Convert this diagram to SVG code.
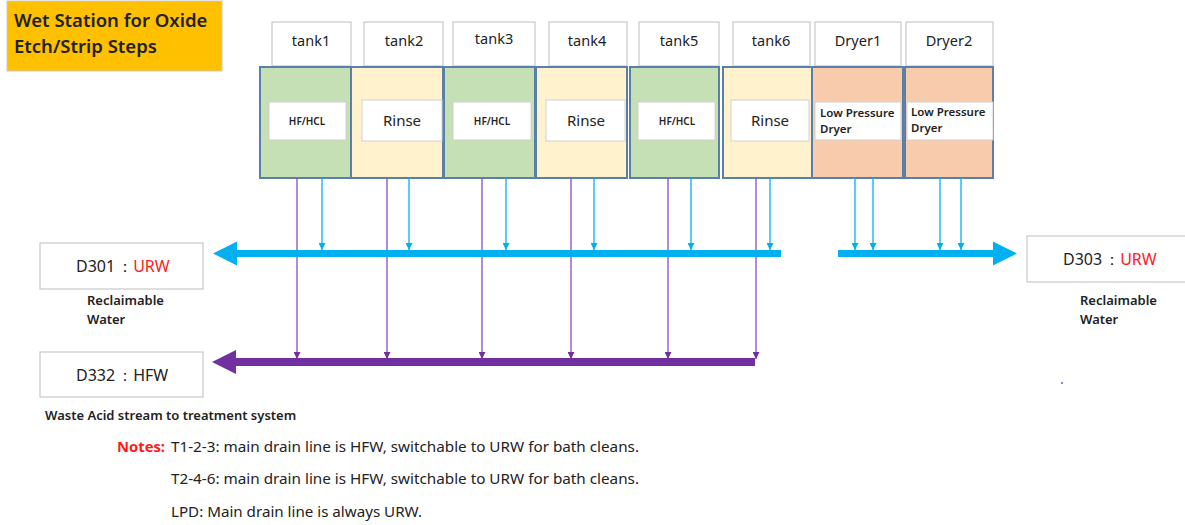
<svg xmlns="http://www.w3.org/2000/svg" width="1185" height="525" viewBox="0 0 1185 525">
<defs>
<style>
text{font-family:"Noto Sans","Open Sans",sans-serif;fill:#222}
.lab{fill:#fff;stroke:#c8c8c8;stroke-width:1.2}
.tank{stroke:#5a7fa8;stroke-width:2}
.g{fill:#c5e0b4}.y{fill:#fff2cc}.o{fill:#f8cbad}
.inner{fill:#fff;stroke:#d0d0d0;stroke-width:1}
.tl{font-size:14.5px;text-anchor:middle}
.hf{font-size:10px;font-weight:600;text-anchor:middle}
.ri{font-size:15px;text-anchor:middle}
.lp{font-size:11.5px;font-weight:600}
.bv{stroke:#00b0f0;stroke-width:1.3;fill:none}
.pv{stroke:#8a4cc0;stroke-width:1.3;fill:none}
.sub{font-size:13px;font-weight:600}
.note{font-size:15px}
.dl{font-size:16px}
</style>
<marker id="ab" viewBox="0 0 10 10" refX="10" refY="5" markerWidth="7" markerHeight="7" markerUnits="userSpaceOnUse" orient="auto"><path d="M0,0 L10,5 L0,10 z" fill="#00b0f0"/></marker>
<marker id="ap" viewBox="0 0 10 10" refX="10" refY="5" markerWidth="7" markerHeight="7" markerUnits="userSpaceOnUse" orient="auto"><path d="M0,0 L10,5 L0,10 z" fill="#7030a0"/></marker>
</defs>
<rect width="1185" height="525" fill="#fff"/>

<g id="title">
<rect x="7" y="1" width="215" height="70" fill="#ffc000" stroke="#c9c9c9" stroke-width="1"/>
<text x="14" y="27" font-size="18.5" font-weight="600" fill="#111">Wet Station for Oxide</text>
<text x="14" y="53" font-size="18.5" font-weight="600" fill="#111">Etch/Strip Steps</text>
</g>

<g id="tank1">
<rect class="lab" x="272" y="22" width="79" height="44"/>
<text class="tl" x="311" y="46">tank1</text>
<rect class="tank g" x="260" y="67" width="91" height="111"/>
<rect class="inner" x="269" y="102" width="77" height="38"/>
<text class="hf" x="307" y="125">HF/HCL</text>
</g>
<g id="tank2">
<rect class="lab" x="364" y="22" width="79" height="44"/>
<text class="tl" x="404" y="46">tank2</text>
<rect class="tank y" x="351" y="67" width="92" height="111"/>
<rect class="inner" x="362" y="100" width="80" height="41"/>
<text class="ri" x="402" y="126">Rinse</text>
</g>
<g id="tank3">
<rect class="lab" x="453" y="22" width="82" height="44"/>
<text class="tl" x="494" y="44">tank3</text>
<rect class="tank g" x="444" y="67" width="91" height="111"/>
<rect class="inner" x="453" y="102" width="78" height="38"/>
<text class="hf" x="492" y="125">HF/HCL</text>
</g>
<g id="tank4">
<rect class="lab" x="549" y="22" width="78" height="44"/>
<text class="tl" x="587" y="46">tank4</text>
<rect class="tank y" x="536" y="67" width="91" height="111"/>
<rect class="inner" x="546" y="100" width="79" height="41"/>
<text class="ri" x="586" y="126">Rinse</text>
</g>
<g id="tank5">
<rect class="lab" x="639" y="22" width="80" height="44"/>
<text class="tl" x="679" y="46">tank5</text>
<rect class="tank g" x="630" y="67" width="89" height="111"/>
<rect class="inner" x="638" y="102" width="77" height="38"/>
<text class="hf" x="677" y="125">HF/HCL</text>
</g>
<g id="tank6">
<rect class="lab" x="733" y="22" width="77" height="44"/>
<text class="tl" x="771" y="46">tank6</text>
<rect class="tank y" x="723" y="67" width="89" height="111"/>
<rect class="inner" x="731" y="100" width="78" height="41"/>
<text class="ri" x="770" y="126">Rinse</text>
</g>
<g id="dryer1">
<rect class="lab" x="815" y="22" width="86" height="44"/>
<text class="tl" x="858" y="46">Dryer1</text>
<rect class="tank o" x="812" y="67" width="91" height="111"/>
<rect class="inner" x="815" y="102" width="86" height="38"/>
<text class="lp" x="820" y="117">Low Pressure</text>
<text class="lp" x="820" y="133">Dryer</text>
</g>
<g id="dryer2">
<rect class="lab" x="906" y="22" width="87" height="44"/>
<text class="tl" x="949" y="46">Dryer2</text>
<rect class="tank o" x="905" y="67" width="88" height="111"/>
<rect class="inner" x="907" y="102" width="86" height="38"/>
<text class="lp" x="911" y="116">Low Pressure</text>
<text class="lp" x="911" y="132">Dryer</text>
</g>

<g id="d301">
<rect class="lab" x="40" y="243" width="163" height="46"/>
<text class="dl" x="76" y="272">D301<tspan dx="2">：</tspan><tspan fill="#ff2020">URW</tspan></text>
<text class="sub" x="87" y="305">Reclaimable</text>
<text class="sub" x="87" y="324">Water</text>
</g>
<g id="d332">
<rect class="lab" x="40" y="352" width="163" height="45"/>
<text class="dl" x="76" y="381">D332<tspan dx="2">：</tspan>HFW</text>
<text class="sub" x="45" y="420">Waste Acid stream to treatment system</text>
</g>
<g id="d303">
<rect class="lab" x="1027" y="236" width="165" height="46"/>
<text class="dl" x="1063" y="265">D303<tspan dx="2">：</tspan><tspan fill="#ff2020">URW</tspan></text>
<text class="sub" x="1080" y="305">Reclaimable</text>
<text class="sub" x="1080" y="324">Water</text>
</g>

<g id="connectors">
<path d="M297,178V359" class="pv" marker-end="url(#ap)"/>
<path d="M387,178V359" class="pv" marker-end="url(#ap)"/>
<path d="M482,178V359" class="pv" marker-end="url(#ap)"/>
<path d="M571,178V359" class="pv" marker-end="url(#ap)"/>
<path d="M668,178V359" class="pv" marker-end="url(#ap)"/>
<path d="M756,178V359" class="pv" marker-end="url(#ap)"/>
<rect x="234" y="358" width="521" height="8" fill="#7030a0"/>
<path d="M212,362 L236,350 L236,374 z" fill="#7030a0"/>

<path d="M322,178V250" class="bv" marker-end="url(#ab)"/>
<path d="M409,178V250" class="bv" marker-end="url(#ab)"/>
<path d="M506,178V250" class="bv" marker-end="url(#ab)"/>
<path d="M594,178V250" class="bv" marker-end="url(#ab)"/>
<path d="M691,178V250" class="bv" marker-end="url(#ab)"/>
<path d="M770,178V250" class="bv" marker-end="url(#ab)"/>
<path d="M855,178V250" class="bv" marker-end="url(#ab)"/>
<path d="M873,178V250" class="bv" marker-end="url(#ab)"/>
<path d="M940,178V250" class="bv" marker-end="url(#ab)"/>
<path d="M961,178V250" class="bv" marker-end="url(#ab)"/>
<rect x="234" y="250" width="547" height="7" fill="#00b0f0"/>
<path d="M213,253.5 L237,241.5 L237,265.5 z" fill="#00b0f0"/>
<rect x="838" y="250" width="158" height="7" fill="#00b0f0"/>
<path d="M1017,253.5 L993,241.5 L993,265.5 z" fill="#00b0f0"/>
</g>

<g id="notes">
<text class="note" x="117" y="452" fill="#ff1a1a" font-weight="700" style="fill:#ff1a1a" textLength="48" lengthAdjust="spacingAndGlyphs">Notes:</text>
<text class="note" x="171" y="452" textLength="468" lengthAdjust="spacingAndGlyphs">T1-2-3: main drain line is HFW, switchable to URW for bath cleans.</text>
<text class="note" x="171" y="484" textLength="468" lengthAdjust="spacingAndGlyphs">T2-4-6: main drain line is HFW, switchable to URW for bath cleans.</text>
<text class="note" x="171" y="517" textLength="251" lengthAdjust="spacingAndGlyphs">LPD: Main drain line is always URW.</text>
</g>
<circle cx="1062" cy="383" r="1" fill="#6a5acd"/>
</svg>
